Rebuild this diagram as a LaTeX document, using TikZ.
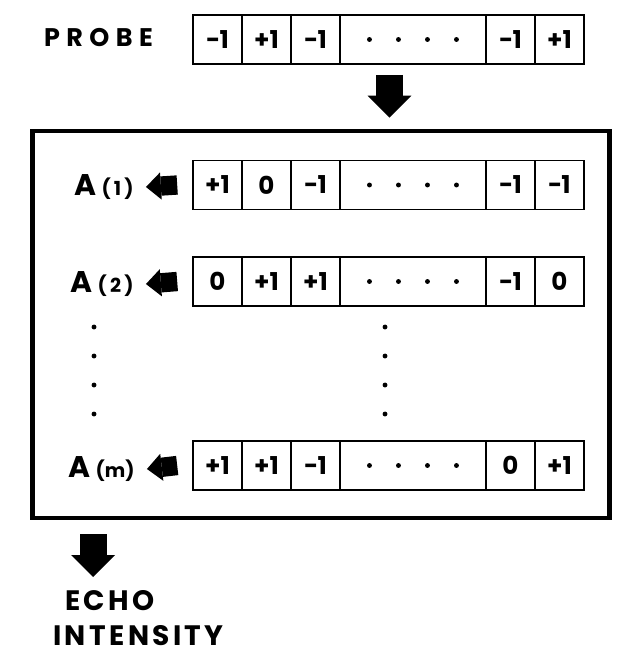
\documentclass[tikz,border=0pt]{standalone}
\usepackage{fontspec}
\setmainfont{Poppins}
\usetikzlibrary{arrows.meta,positioning}

\tikzset{
  cell/.style={draw, line width=1.1pt, minimum width=0.98cm, minimum height=0.98cm,
    inner sep=0pt, outer sep=0pt, font=\fontsize{14}{14}\selectfont\bfseries},
  dotcell/.style={cell, minimum width=2.92cm},
  seqlabel/.style={anchor=east, inner sep=0pt, font=\fontsize{17}{17}\selectfont\bfseries},
  downarrow/.style={line width=15.3pt, -{Triangle[width=25pt,length=12.5pt,line width=0pt]}},
  leftarrow/.style={line width=11pt, -{Triangle[width=15.5pt,length=8.5pt,line width=0pt]}},
}

\begin{document}
\begin{tikzpicture}[x=0.02cm, y=-0.02cm]
  \useasboundingbox (0,0) rectangle (622,658);
  % probe row and the m stored sequences
  \foreach \r/\y/\va/\vb/\vc/\vd/\ve in {p/39.5/−1/+1/−1/−1/+1, a/185/+1/0/−1/−1/−1,
      b/281.5/0/+1/+1/−1/0, m/465.5/+1/+1/−1/0/+1} {
    \node[cell] (\r1) at (217.5,\y) {\va};
    \node[cell, right=0pt of \r1] (\r2) {\vb};
    \node[cell, right=0pt of \r2] (\r3) {\vc};
    \node[dotcell, right=0pt of \r3] (\r4) {};
    \node[cell, right=0pt of \r4] (\r5) {\vd};
    \node[cell, right=0pt of \r5] (\r6) {\ve};
    \foreach \d in {-1.5,-0.5,0.5,1.5}
      \fill ([shift={(\d*29,0)}]\r4.center) circle (1.4pt);
  }
  \node[draw, line width=2.8pt, minimum width=11.56cm, minimum height=7.74cm,
    inner sep=0pt] (frame) at (321,324.5) {};

  \node[inner sep=0pt, font=\fontsize{14.5}{14.5}\selectfont\bfseries\addfontfeature{LetterSpace=25}]
    (probe) at (98.5,38) {PROBE};
  \node[seqlabel] (la) at (134,187) {A\,{\fontsize{11}{11}\selectfont(\,1\,)}};
  \node[seqlabel] (lb) at (134,284) {A\,{\fontsize{11}{11}\selectfont(\,2\,)}};
  \node[seqlabel] (lm) at (135,469) {A\,{\fontsize{11}{11}\selectfont(m)}};
  \foreach \l/\r in {la/a, lb/b, lm/m}
    \draw[leftarrow] ([xshift=-9pt]\r1.west) -- ([xshift=6.8pt]\l.east);

  % vertical dots between A(2) and A(m)
  \foreach \y in {327,356,385,414} {
    \fill (94,\y) circle (1.4pt);
    \fill (385,\y) circle (1.4pt);
  }

  \coordinate (in) at ([shift={(-23.5,11)}]p4.south);
  \draw[downarrow] (in) -- ([yshift=6.2pt]frame.north -| in);

  \node[align=left, anchor=north west, inner sep=0pt,
    font=\fontsize{16}{20}\selectfont\bfseries\addfontfeature{LetterSpace=12}]
    (echo) at (53,590) {\hspace{6.8pt}ECHO\\INTENSITY};
  \coordinate (out) at ([shift={(63.5,14)}]frame.south west);
  \draw[downarrow] (out) -- ([yshift=7.4pt]echo.north -| out);
\end{tikzpicture}
\end{document}
